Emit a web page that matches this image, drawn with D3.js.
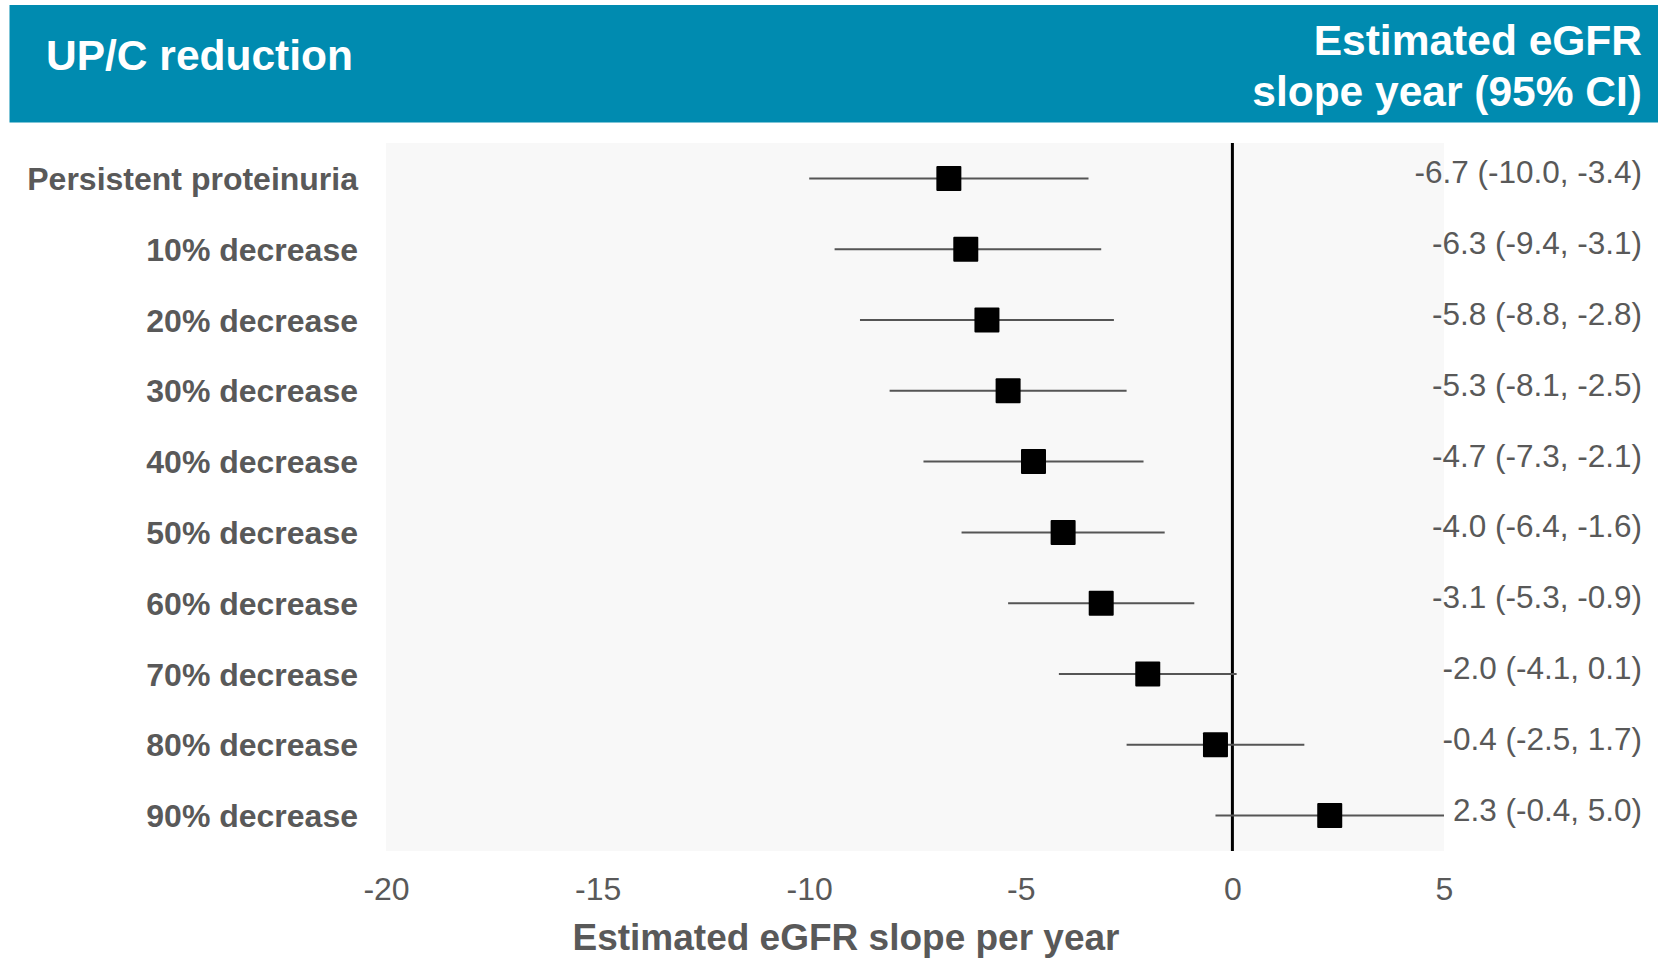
<!DOCTYPE html>
<html><head><meta charset="utf-8">
<script src="https://cdn.jsdelivr.net/npm/d3@7"></script>
<style>html,body{margin:0;padding:0;background:#fff;}svg{display:block;}</style>
</head><body>
<svg id="chart" width="1658" height="958"></svg>
<script>
const categories = ["Persistent proteinuria","10% decrease","20% decrease","30% decrease","40% decrease","50% decrease","60% decrease","70% decrease","80% decrease","90% decrease"];
const estimates = [-6.7,-6.3,-5.8,-5.3,-4.7,-4.0,-3.1,-2.0,-0.4,2.3];
const lowerCI = [-10.0,-9.4,-8.8,-8.1,-7.3,-6.4,-5.3,-4.1,-2.5,-0.4];
const upperCI = [-3.4,-3.1,-2.8,-2.5,-2.1,-1.6,-0.9,0.1,1.7,5.0];
const xTicks = [-20,-15,-10,-5,0,5];
const leftHeader = "UP/C reduction";
const rightHeader = ["Estimated eGFR","slope year (95% CI)"];
const xTitle = "Estimated eGFR slope per year";

const svg = d3.select("#chart");
const font = "Liberation Sans, Arial, sans-serif";
const grey = "#595959";

// header banner
svg.append("rect").attr("x",9.5).attr("y",5).attr("width",1658-9.5).attr("height",117.5).attr("fill","#008bb0");
svg.append("text").attr("x",46).attr("y",70).attr("fill","#fff").attr("font-family",font)
  .attr("font-weight","bold").attr("font-size",42.5).text(leftHeader);
svg.append("g").selectAll("text").data(rightHeader).join("text")
  .attr("x",1642).attr("y",(d,i)=>55+i*51).attr("text-anchor","end").attr("fill","#fff")
  .attr("font-family",font).attr("font-weight","bold").attr("font-size",42.5).text(d=>d);

const x = d3.scaleLinear().domain([-20,5]).range([386,1444]);
const y = d3.scaleBand().domain(categories).range([143,851]).padding(0);

// plot background
svg.append("rect").attr("x",x(-20)).attr("y",143).attr("width",x(5)-x(-20)).attr("height",851-143).attr("fill","#f8f8f8");

// zero line
svg.append("line").attr("x1",x(0)).attr("x2",x(0)).attr("y1",143).attr("y2",851)
  .attr("stroke","#000").attr("stroke-width",3);

const rows = categories.map((c,i)=>({c,est:estimates[i],lo:lowerCI[i],hi:upperCI[i]}));
const cy = d => y(d.c)+y.bandwidth()/2;

svg.append("g").selectAll("line").data(rows).join("line")
  .attr("x1",d=>x(d.lo)).attr("x2",d=>x(d.hi)).attr("y1",cy).attr("y2",cy)
  .attr("stroke","#555").attr("stroke-width",2);

const sq = 25;
svg.append("g").selectAll("rect").data(rows).join("rect")
  .attr("x",d=>x(d.est)-sq/2).attr("y",d=>cy(d)-sq/2).attr("width",sq).attr("height",sq)
  .attr("rx",1).attr("fill","#000");

// left labels
svg.append("g").selectAll("text").data(rows).join("text")
  .attr("x",358).attr("y",d=>cy(d)+11.5).attr("text-anchor","end")
  .attr("font-family",font).attr("font-weight","bold").attr("font-size",32).attr("fill",grey)
  .text(d=>d.c);

// right value labels
svg.append("g").selectAll("text").data(rows).join("text")
  .attr("x",1642).attr("y",d=>cy(d)+5).attr("text-anchor","end")
  .attr("font-family",font).attr("font-size",31.5).attr("fill",grey)
  .text(d=>`${d.est.toFixed(1)} (${d.lo.toFixed(1)}, ${d.hi.toFixed(1)})`);

// x axis
const axis = d3.axisBottom(x).tickValues(xTicks).tickSize(0).tickPadding(0).tickFormat(d=>String(d));
const gx = svg.append("g").attr("transform","translate(0,900)").call(axis);
gx.select(".domain").remove();
gx.selectAll("text").attr("font-family",font).attr("font-size",32).attr("fill",grey).attr("dy",0);

svg.append("text").attr("x",846).attr("y",950).attr("text-anchor","middle")
  .attr("font-family",font).attr("font-weight","bold").attr("font-size",37).attr("fill",grey).text(xTitle);
</script>
</body></html>
